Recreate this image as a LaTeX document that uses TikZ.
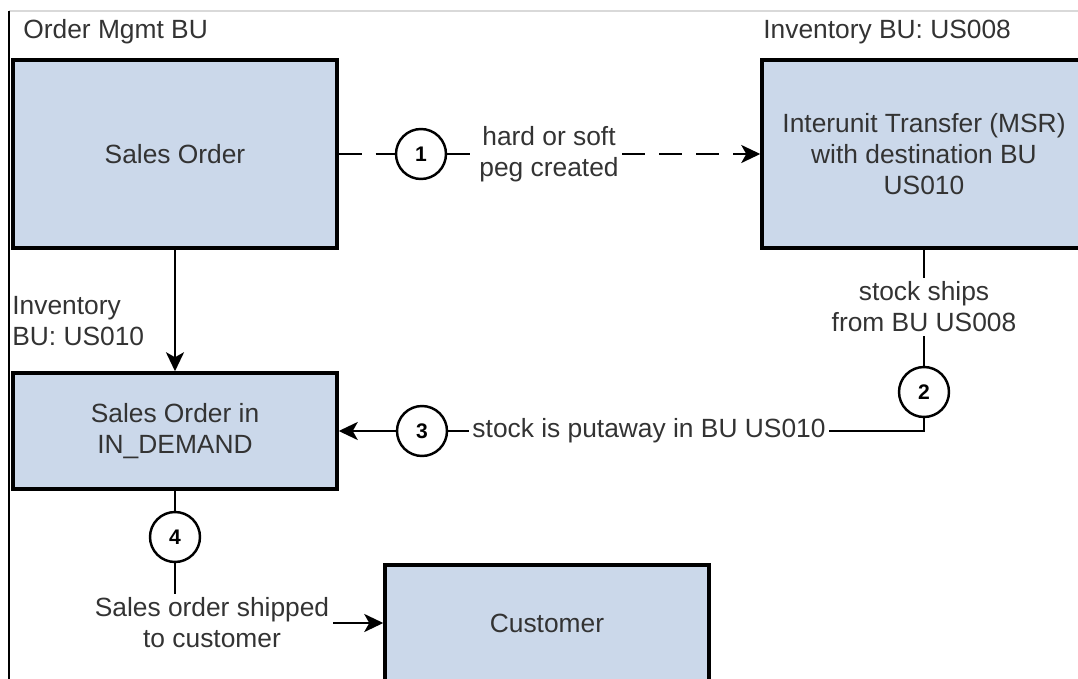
\documentclass[tikz,border=0pt]{standalone}
\usepackage{fontspec}
\setmainfont{Liberation Sans}
\usetikzlibrary{arrows.meta}
\definecolor{boxblue}{RGB}{203,216,234}
\definecolor{inkgray}{RGB}{51,51,51}

\begin{document}
\begin{tikzpicture}[x=0.02cm,y=-0.02cm]
            \tikzset{
                stage/.style={rectangle,draw=black,line width=2pt,fill=boxblue,minimum width=6.48cm,
                    text=inkgray,font=\fontsize{15}{17.6}\selectfont,align=center},
                tall/.style={minimum height=3.76cm},
                short/.style={minimum height=2.32cm},
                stepnum/.style={circle,draw=black,line width=1.4pt,fill=white,minimum size=1cm,
                    inner sep=0pt,font=\fontsize{12}{14}\selectfont\bfseries},
                note/.style={text=inkgray,font=\fontsize{15}{17.6}\selectfont,align=center,inner sep=2pt},
                link/.style={line width=1.4pt},
                pegline/.style={link,dash pattern=on 0.46cm off 0.28cm},
                flow/.style={link,-{Stealth[length=0.38cm,width=0.36cm,inset=0.1cm]}}
            }
            \useasboundingbox (0,0) rectangle (1078,679);
            \clip (0,0) rectangle (1078,679);

            % frame
            \draw[black!15,line width=0.6pt] (9,11) -- (1078,11);
            \draw[black,line width=0.8pt] (9,11) -- (9,679);

            % business units
            \node[note,anchor=west,inner sep=0pt] (ombu) at (23,32) {Order Mgmt BU};
            \node[note,anchor=west,inner sep=0pt] (invbu8) at (763,32) {Inventory BU: US008};
            \node[note,anchor=west,inner sep=0pt,align=left] (invbu10) at (12,321) {Inventory\\BU: US010};

            \node[stage,tall] (so) at (175,154) {Sales Order};
            \node[stage,tall] (iut) at (924,154) {Interunit Transfer (MSR)\\with destination BU\\US010};
            \node[stage,short] (sod) at (175,431) {Sales Order in\\IN\_DEMAND};
            \node[stage,short] (cust) at (547,623) {Customer};

            \node[stepnum] (s1) at (421,154) {1};
            \node[note] (peg) at (549,154) {hard or soft\\peg created};
            \node[note] (ships) at (924,307) {stock ships\\from BU US008};
            \node[stepnum] (s2) at (924,392) {2};
            \node[note] (putaway) at (649,431) {stock is putaway in BU US010};
            \node[stepnum] (s3) at (422,431) {3};
            \node[stepnum] (s4) at (175,537) {4};
            \node[note] (shipped) at (212,623) {Sales order shipped\\to customer};

            % step 1
            \draw[pegline] (so) -- (s1);
            \draw[pegline] (s1) -- (peg);
            \draw[pegline,flow] (peg) -- (iut);
            \draw[flow] (so) -- (sod);
            % steps 2 and 3
            \draw[link] (iut) -- (ships);
            \draw[link] (ships) -- (s2);
            \draw[link] (s2) |- (putaway);
            \draw[link] (putaway) -- (s3);
            \draw[flow] (s3) -- (sod);
            % step 4
            \draw[link] (sod) -- (s4);
            \draw[link] (s4) -- (s4 |- shipped.north);
            \draw[flow] (shipped) -- (cust);
        \end{tikzpicture}
\end{document}
